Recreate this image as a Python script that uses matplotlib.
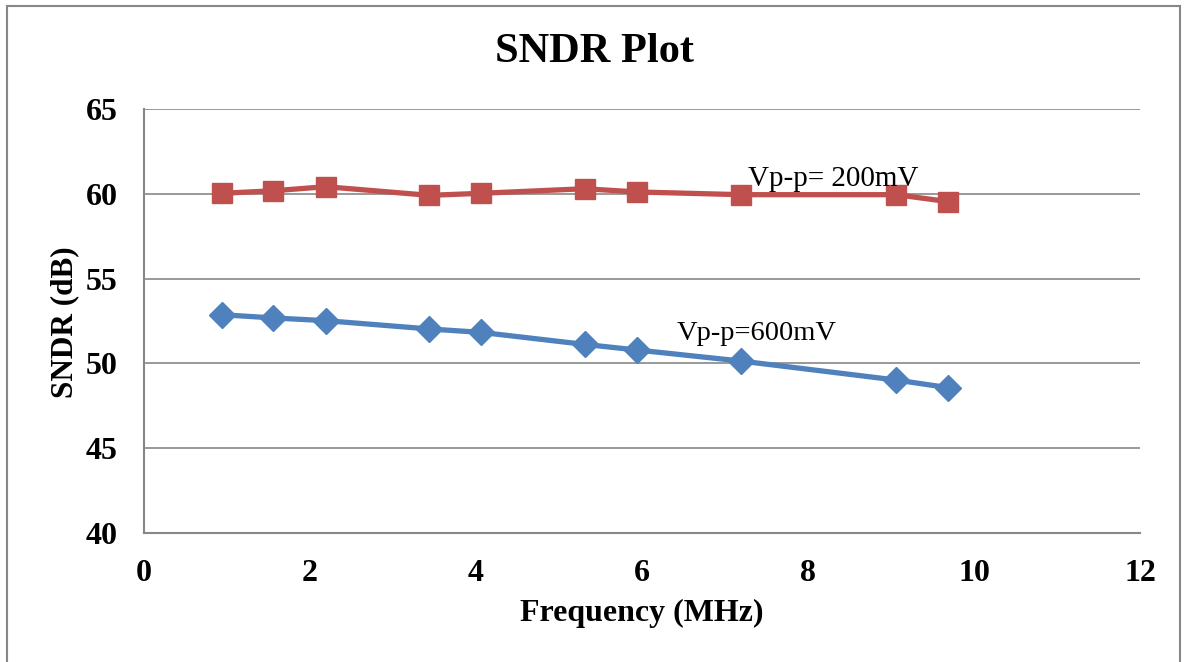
import matplotlib
matplotlib.use("Agg")
import matplotlib.pyplot as plt
from matplotlib.patches import Rectangle

freq_mhz = [0.94, 1.56, 2.19, 3.44, 4.06, 5.31, 5.94, 7.19, 9.06, 9.69]
sndr_200mV = [60.03, 60.18, 60.42, 59.91, 60.03, 60.30, 60.11, 59.95, 59.95, 59.54]
sndr_600mV = [52.87, 52.68, 52.52, 52.03, 51.83, 51.12, 50.79, 50.14, 49.02, 48.57]
x_ticks = [0, 2, 4, 6, 8, 10, 12]
y_ticks = [40, 45, 50, 55, 60, 65]

serif = ["Liberation Serif", "DejaVu Serif"]
plt.rcParams["font.family"] = serif

fig = plt.figure(figsize=(11.85, 6.62), dpi=100)
ax = fig.add_axes([0.1215, 0.1949, 0.8405, 0.6404])

grid_c = "#878787"
for yv in y_ticks:
    ax.axhline(yv, color=grid_c, lw=1.2, zorder=1)

ax.plot(freq_mhz, sndr_200mV, color="#C0504D", lw=3.8, marker="s",
        markersize=14, markeredgecolor="#C0504D", zorder=3)
ax.plot(freq_mhz, sndr_600mV, color="#4F81BD", lw=3.8, marker="D",
        markersize=13.5, markeredgecolor="#4F81BD", zorder=3)

ax.text(7.28, 60.85, "Vp-p= 200mV", fontsize=21, va="center", ha="left", zorder=4)
ax.text(6.42, 51.75, "Vp-p=600mV", fontsize=20.5, va="center", ha="left", zorder=4)

ax.set_xlim(0, 12)
ax.set_ylim(40, 65)
ax.set_xticks(x_ticks)
ax.set_yticks(y_ticks)
ax.tick_params(length=0, labelsize=23)
ax.tick_params(axis="x", pad=19)
ax.tick_params(axis="y", pad=19)
for lab in ax.get_xticklabels() + ax.get_yticklabels():
    lab.set_fontweight("bold")

for s in ["top", "right"]:
    ax.spines[s].set_visible(False)
ax.spines["left"].set_color(grid_c)
ax.spines["bottom"].set_color(grid_c)
ax.spines["left"].set_linewidth(1.5)
ax.spines["bottom"].set_linewidth(1.5)

ax.set_xlabel("Frequency (MHz)", fontsize=23, fontweight="bold", va="top")
ax.xaxis.set_label_coords(0.5, -0.156)
ax.set_ylabel("SNDR (dB)", fontsize=22.5, fontweight="bold")
ax.yaxis.set_label_coords(-0.065, 0.498)
fig.text(0.502, 0.921, "SNDR Plot", fontsize=30.5, fontweight="bold", ha="center", va="center")

fig.patches.append(Rectangle((7 / 1185, -0.05), (1180 - 7) / 1185, 1.05 - 6 / 662,
                             transform=fig.transFigure, fill=False,
                             edgecolor="#878787", lw=1.5))

fig.savefig("out.png", dpi=100)
